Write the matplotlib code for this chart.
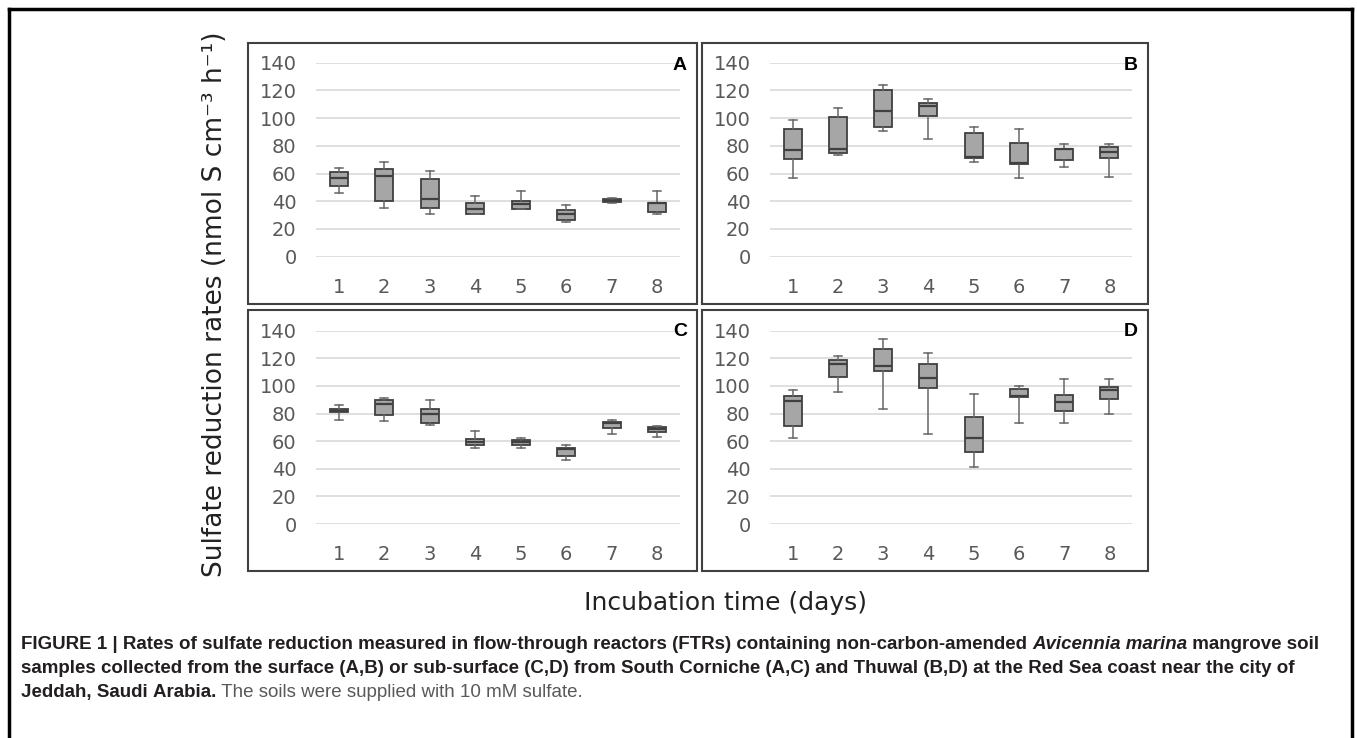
# -*- coding: utf-8 -*-

import matplotlib
matplotlib.use("Agg")
import matplotlib.pyplot as plt
from matplotlib.patches import Rectangle
from matplotlib.lines import Line2D

# incubation days
days = [1, 2, 3, 4, 5, 6, 7, 8]

# box stats per day: whisker low, Q1, median, Q3, whisker high
a_low = [46, 35, 30.5, 30.5, 34.5, 25, 39, 31]
a_q1 = [51, 40, 35, 31, 34.5, 26.5, 39.5, 32.5]
a_med = [57, 58.5, 42, 34.5, 38, 31, 40.5, 38.5]
a_q3 = [61, 63, 56, 39, 40.5, 34, 42, 39]
a_high = [64, 68, 62, 43.5, 47.5, 37, 42.5, 47.5]

b_low = [57, 73.5, 91, 85, 68, 57, 65, 57.5]
b_q1 = [70.5, 75, 93.5, 101.5, 71, 67, 70, 71]
b_med = [77, 77.5, 105.5, 108.5, 72, 67.6, 77.5, 75.5]
b_q3 = [92.5, 101, 120.5, 111, 89.5, 82, 78, 79]
b_high = [98.5, 107, 124, 114, 93.5, 92.5, 81.5, 81.5]

c_low = [75, 74.5, 72, 55, 55, 46, 65, 63]
c_q1 = [81, 79, 73.5, 57.5, 57.5, 49, 69.5, 66.5]
c_med = [82, 87, 80, 59.5, 59.5, 54, 73, 68.5]
c_q3 = [83, 89.5, 83, 61.5, 61, 55, 74, 70.5]
c_high = [86.5, 91, 90, 67, 62, 57.5, 75, 71]

d_low = [62.5, 95.5, 83, 65.5, 41.5, 73.5, 73, 80]
d_q1 = [71, 106.5, 111, 98.5, 52.5, 92, 81.5, 90.5]
d_med = [89, 116, 114.5, 105.5, 62, 93, 88.5, 97]
d_q3 = [93, 118.5, 127, 116, 77.5, 97.5, 93.5, 99.5]
d_high = [97, 122, 134, 123.5, 94, 100, 105, 105]

y_ticks = [0, 20, 40, 60, 80, 100, 120, 140]
panel_letters = ["A", "B", "C", "D"]

W, H = 1357, 738
fig = plt.figure(figsize=(W / 100, H / 100), dpi=100)


def fx(px):
    return px / W


def fy(py):
    return 1 - py / H


def make_stats(low, q1, med, q3, high):
    stats = []
    for i in range(len(low)):
        stats.append({"whislo": low[i], "q1": q1[i], "med": med[i],
                      "q3": q3[i], "whishi": high[i], "fliers": []})
    return stats


# plot areas (pixels): left, right, top(140), bottom(0)
areas = [(316, 680, 62.7, 256.7), (770, 1132, 62.7, 256.7),
         (316, 680, 330.7, 524), (770, 1132, 330.7, 524)]
# panel frames: left, top, right, bottom
frames = [(248, 43, 697, 304), (702, 43, 1148, 304),
          (248, 310, 697, 571), (702, 310, 1148, 571)]
data = [(a_low, a_q1, a_med, a_q3, a_high),
        (b_low, b_q1, b_med, b_q3, b_high),
        (c_low, c_q1, c_med, c_q3, c_high),
        (d_low, d_q1, d_med, d_q3, d_high)]

for k in range(4):
    l, r, t, b = areas[k]
    ax = fig.add_axes([fx(l), fy(b), fx(r - l), (b - t) / H])
    ax.bxp(make_stats(*data[k]), positions=days, widths=0.4, capwidths=0.18,
           patch_artist=True, showfliers=False,
           boxprops=dict(facecolor="#a6a6a6", edgecolor="#404040", linewidth=1.3),
           medianprops=dict(color="#404040", linewidth=1.6),
           whiskerprops=dict(color="#666666", linewidth=1.1),
           capprops=dict(color="#666666", linewidth=1.1))
    ax.set_xlim(0.5, 8.5)
    ax.set_ylim(0, 140)
    ax.set_yticks(y_ticks)
    ax.set_xticks(days)
    ax.set_xticklabels([str(d) for d in days])
    ax.yaxis.grid(True, color="#d9d9d9", linewidth=1.2)
    ax.set_axisbelow(True)
    for s in ax.spines.values():
        s.set_visible(False)
    ax.tick_params(axis="both", length=0, labelsize=14, colors="#595959")
    ax.tick_params(axis="y", pad=14)
    ax.tick_params(axis="x", pad=15)

    fl, ft, fr, fb = frames[k]
    fig.add_artist(Rectangle((fx(fl), fy(fb)), fx(fr - fl), (fb - ft) / H,
                             transform=fig.transFigure, fill=False,
                             edgecolor="#404040", linewidth=1.5))
    fig.text(fx(fr - 10), fy(ft + 22), panel_letters[k], ha="right", va="center",
             fontsize=14, fontweight="bold", color="black", family="Liberation Sans")

fig.text(fx(215), fy(304), "Sulfate reduction rates (nmol S cm\u207b\u00b3 h\u207b\u00b9)",
         rotation=90, ha="center", va="center", fontsize=19, color="#222222")
fig.text(fx(725), fy(603), "Incubation time (days)", ha="center", va="center",
         fontsize=18, color="#222222")

# outer frame
for xs, ys in [([9, 9], [9, 738]), ([9, 1352], [9, 9]), ([1352, 1352], [9, 738])]:
    fig.add_artist(Line2D([fx(v) for v in xs], [fy(v) for v in ys],
                          transform=fig.transFigure, color="black", linewidth=2.5))

# caption
cap_font = "Liberation Sans"
dark = "#231f20"
grey = "#58595b"
lines = [
    [("FIGURE 1 | Rates of sulfate reduction measured in flow-through reactors (FTRs) "
      "containing non-carbon-amended ", "bold", "normal", dark),
     ("Avicennia marina", "bold", "italic", dark),
     (" mangrove soil", "bold", "normal", dark)],
    [("samples collected from the surface (A,B) or sub-surface (C,D) from South Corniche "
      "(A,C) and Thuwal (B,D) at the Red Sea coast near the city of", "bold", "normal", dark)],
    [("Jeddah, Saudi Arabia.", "bold", "normal", dark),
     (" The soils were supplied with 10 mM sulfate.", "normal", "normal", grey)],
]
renderer = fig.canvas.get_renderer()


def width_of(txt, size, weight, style):
    t = fig.text(0, 0, txt.replace(" ", "\u00a0"), fontsize=size, fontweight=weight,
                 fontstyle=style, family=cap_font)
    w = t.get_window_extent(renderer).width
    t.remove()
    return w


# fit first line to its width in the picture
base = sum(width_of(p[0], 10, p[1], p[2]) for p in lines[0])
cap_size = 10 * (1322 - 21) / base

baselines = [649, 673, 697]
for line, yb in zip(lines, baselines):
    x = 21
    for txt, weight, style, color in line:
        fig.text(fx(x), fy(yb), txt.replace(" ", "\u00a0"), fontsize=cap_size,
                 fontweight=weight, fontstyle=style, family=cap_font, color=color,
                 va="baseline", ha="left")
        x += width_of(txt, cap_size, weight, style)

plt.savefig("out.png", dpi=100)
